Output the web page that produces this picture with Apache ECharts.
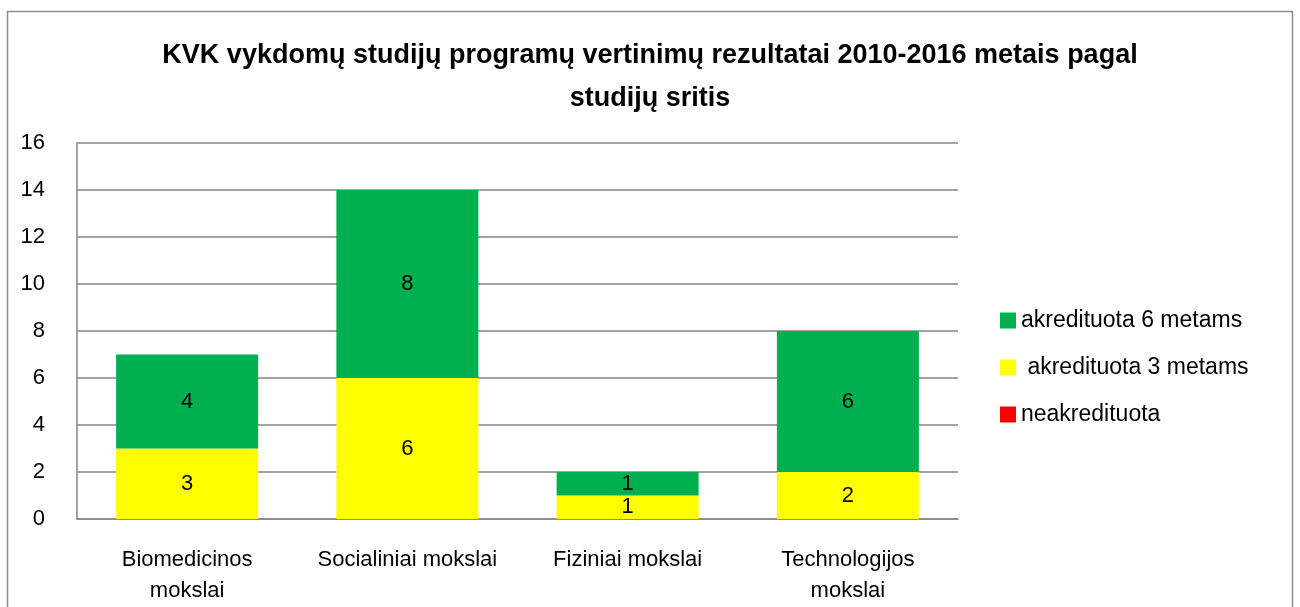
<!DOCTYPE html>
<html>
<head>
<meta charset="utf-8">
<script src="https://cdn.jsdelivr.net/npm/echarts@6/dist/echarts.min.js"></script>
<style>
  html, body { margin: 0; padding: 0; background: #fff; }
  #main { width: 1300px; height: 607px; }
</style>
</head>
<body>
<div id="main"></div>
<script>
// duomenys
var categories = ['Biomedicinos\nmokslai', 'Socialiniai mokslai', 'Fiziniai mokslai', 'Technologijos\nmokslai'];
var neakredituota = [0, 0, 0, 0];
var akred3 = [3, 6, 1, 2];
var akred6 = [4, 8, 1, 6];
var yTicks = [0, 2, 4, 6, 8, 10, 12, 14, 16];

var font = 'Liberation Sans';
var lbl = { show: true, position: 'inside', color: '#000', fontSize: 22, fontFamily: font };

var option = {
    animation: false,
    title: {
        text: 'KVK vykdomų studijų programų vertinimų rezultatai 2010-2016 metais pagal\nstudijų sritis',
        left: 'center',
        top: 29,
        textStyle: { fontFamily: font, fontWeight: 'bold', fontSize: 27, color: '#000', lineHeight: 43 }
    },
    legend: {
        orient: 'vertical',
        left: 995,
        top: 304,
        itemWidth: 16,
        itemHeight: 16,
        itemGap: 24,
        icon: 'rect',
        data: ['akredituota 6 metams', ' akredituota 3 metams', 'neakredituota'],
        textStyle: { fontFamily: font, fontSize: 23, color: '#000', padding: [0, 0, 0, 0] }
    },
    grid: { left: 77, right: 342, top: 143, bottom: 88, containLabel: false },
    xAxis: {
        type: 'category',
        data: categories,
        axisLine: { lineStyle: { color: '#868686', width: 1.5 } },
        axisTick: { show: false },
        axisLabel: { interval: 0, fontFamily: font, fontSize: 22, color: '#000', margin: 25, lineHeight: 31 }
    },
    yAxis: {
        type: 'value',
        min: yTicks[0],
        max: yTicks[yTicks.length - 1],
        interval: 2,
        axisLine: { show: true, lineStyle: { color: '#868686', width: 1.5 } },
        axisTick: { show: false },
        splitLine: { lineStyle: { color: '#868686', width: 1.5 } },
        axisLabel: { fontFamily: font, fontSize: 22, color: '#000', margin: 32 }
    },
    series: [
        { name: 'neakredituota', type: 'bar', stack: 's', barWidth: 142, data: neakredituota,
          itemStyle: { color: '#ff0000' } },
        { name: ' akredituota 3 metams', type: 'bar', stack: 's', barWidth: 142, data: akred3,
          itemStyle: { color: '#ffff00' }, label: lbl },
        { name: 'akredituota 6 metams', type: 'bar', stack: 's', barWidth: 142, data: akred6,
          itemStyle: { color: '#00b050' }, label: lbl }
    ],
    graphic: [{
        type: 'rect',
        shape: { x: 7.5, y: 11.5, width: 1285, height: 620 },
        style: { fill: 'none', stroke: '#8c8c8c', lineWidth: 1.5 },
        silent: true
    }]
};

var myChart = echarts.init(document.getElementById('main'));
myChart.setOption(option);
</script>
</body>
</html>
